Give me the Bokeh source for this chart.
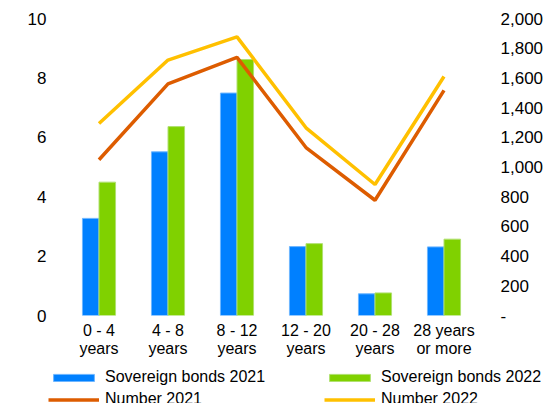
from bokeh.plotting import figure
from bokeh.layouts import column
from bokeh.models import (Range1d, LinearAxis, FactorRange, ColumnDataSource, Legend,
                          LegendItem, SingleIntervalTicker, CustomJSTickFormatter)
from bokeh.transform import dodge
from bokeh.embed import file_html
from bokeh.resources import INLINE

categories = ["0 - 4\nyears", "4 - 8\nyears", "8 - 12\nyears", "12 - 20\nyears",
              "20 - 28\nyears", "28 years\nor more"]
sov_2021 = [3.27, 5.51, 7.49, 2.32, 0.73, 2.31]
sov_2022 = [4.49, 6.36, 8.62, 2.42, 0.76, 2.57]
num_2021 = [1049, 1560, 1738, 1131, 776, 1516]
num_2022 = [1293, 1720, 1876, 1264, 882, 1609]
series_labels = ["Sovereign bonds 2021", "Sovereign bonds 2022", "Number 2021", "Number 2022"]

src = ColumnDataSource(dict(cat=categories, s21=sov_2021, s22=sov_2022,
                            n21=num_2021, n22=num_2022))

FONT = "Liberation Sans"
BLUE = "#0080FF"
GREEN = "#80D100"
ORANGE = "#DD5C00"
YELLOW = "#FFC000"
BLUE_EDGE = "#6DB6FF"
GREEN_EDGE = "#B0E070"

p = figure(width=548, height=360, x_range=FactorRange(*categories, range_padding=0),
           y_range=Range1d(0, 10), output_backend="svg", toolbar_location=None,
           min_border_left=64, min_border_right=70, min_border_top=18, min_border_bottom=42)
p.frame_align = False
p.extra_y_ranges = {"num": Range1d(0, 2000)}
p.outline_line_color = None
p.grid.visible = False

p.vbar(x=dodge("cat", -0.12, range=p.x_range), top="s21", width=0.24, source=src,
       fill_color=BLUE, line_color=BLUE_EDGE, line_width=1)
p.vbar(x=dodge("cat", 0.12, range=p.x_range), top="s22", width=0.24, source=src,
       fill_color=GREEN, line_color=GREEN_EDGE, line_width=1)
p.line(x="cat", y="n21", source=src, y_range_name="num", line_color=ORANGE, line_width=3.5)
p.line(x="cat", y="n22", source=src, y_range_name="num", line_color=YELLOW, line_width=3.5)


def style_axis(ax, standoff, size):
    ax.axis_line_color = None
    ax.major_tick_line_color = None
    ax.minor_tick_line_color = None
    ax.major_tick_out = 0
    ax.major_tick_in = 0
    ax.minor_tick_out = 0
    ax.major_label_standoff = standoff
    ax.major_label_text_font = FONT
    ax.major_label_text_font_size = size
    ax.major_label_text_color = "#000000"


ya = p.yaxis[0]
ya.ticker = SingleIntervalTicker(interval=2)
style_axis(ya, 18, "17px")

ra = LinearAxis(y_range_name="num", ticker=SingleIntervalTicker(interval=200),
                formatter=CustomJSTickFormatter(code="return tick == 0 ? '-' : tick.toLocaleString('en-US');"))
style_axis(ra, 22, "17px")
p.add_layout(ra, "right")

xa = p.xaxis[0]
style_axis(xa, 6, "16px")
xa.major_label_text_line_height = 1.1

# legend strip (its own small figure below the chart)
lg_fig = figure(width=548, height=43, x_range=Range1d(0, 1), y_range=Range1d(0, 1),
                output_backend="svg", toolbar_location=None,
                min_border_left=0, min_border_right=0, min_border_top=0, min_border_bottom=0)
lg_fig.frame_align = False
lg_fig.axis.visible = False
lg_fig.grid.visible = False
lg_fig.outline_line_color = None

# proxy glyphs kept outside the visible range, used only for legend swatches
proxy = ColumnDataSource(dict(x=[5, 6], y=[5, 5]))
r_s21 = lg_fig.vbar(x="x", top="y", bottom=4, width=0.1, source=proxy, fill_color=BLUE, line_color=BLUE_EDGE)
r_s22 = lg_fig.vbar(x="x", top="y", bottom=4, width=0.1, source=proxy, fill_color=GREEN, line_color=GREEN_EDGE)
r_n21 = lg_fig.line(x="x", y="y", source=proxy, line_color=ORANGE, line_width=3.5)
r_n22 = lg_fig.line(x="x", y="y", source=proxy, line_color=YELLOW, line_width=3.5)


def make_legend(items, x):
    lg = Legend(items=items, location=(x, -5), orientation="vertical")
    lg.glyph_width = 51
    lg.glyph_height = 9
    lg.label_height = 16
    lg.spacing = 4
    lg.padding = 0
    lg.margin = 0
    lg.label_standoff = 6
    lg.border_line_color = None
    lg.background_fill_alpha = 0
    lg.label_text_font = FONT
    lg.label_text_font_size = "16px"
    lg.label_text_color = "#000000"
    return lg


lg_fig.add_layout(make_legend([LegendItem(label=series_labels[0], renderers=[r_s21]),
                               LegendItem(label=series_labels[2], renderers=[r_n21])], 48), "center")
lg_fig.add_layout(make_legend([LegendItem(label=series_labels[1], renderers=[r_s22]),
                               LegendItem(label=series_labels[3], renderers=[r_n22])], 324), "center")

layout = column(p, lg_fig, spacing=0)
open("out.html", "w").write(file_html(layout, INLINE))
